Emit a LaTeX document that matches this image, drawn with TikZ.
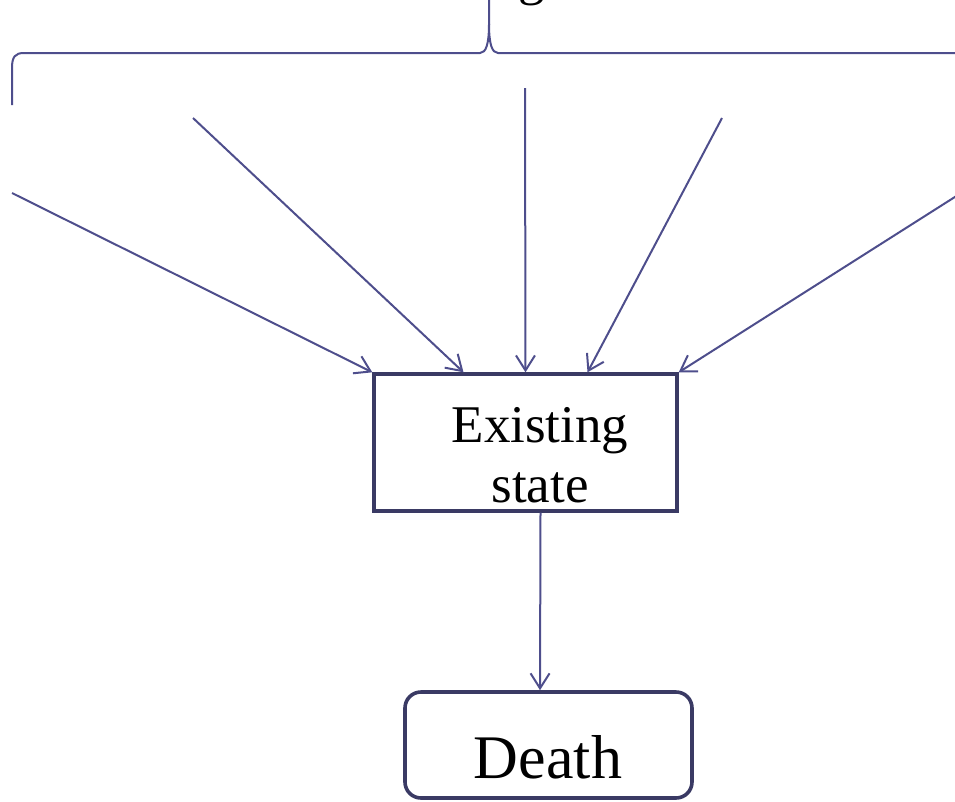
\documentclass[tikz,border=0pt]{standalone}
\usepackage{fontspec}
\setmainfont{Liberation Serif}
\usetikzlibrary{arrows.meta}
\definecolor{arrowcol}{HTML}{4E4E8C}
\definecolor{boxcol}{HTML}{3A3A64}
\begin{document}
\begin{tikzpicture}[x=1pt,y=-1pt,
  link/.style={draw=arrowcol,line width=2pt,-{Straight Barb[length=15pt,width=19pt,line width=2pt]}},
  statebox/.style={draw=boxcol,line width=3.4pt,minimum width=303pt,minimum height=137pt,inner sep=0pt},
  endbox/.style={draw=boxcol,line width=3.6pt,rounded corners=16pt,minimum width=287pt,minimum height=106pt,inner sep=0pt}]
  \useasboundingbox (0,0) rectangle (955,801);

  % caption above the brace (only its last letter reaches the page)
  \node[anchor=base west,inner sep=0pt,font=\fontsize{53pt}{60pt}\selectfont] (cap) at (518,-5.5) {g};

  % brace grouping the contributing causes
  \draw[arrowcol,line width=2pt]
    (12,105) -- (12,68) .. controls (12,57) and (15,53) .. (24,53) -- (480,53)
    .. controls (486,53) and (489,44) .. (489,24) -- (489,-2);
  \draw[arrowcol,line width=2pt]
    (489,24) .. controls (489,44) and (492,53) .. (498,53) -- (960,53);

  % boxes
  \node[statebox] (state) at (525.5,442.5) {};
  \node[inner sep=0pt,align=center,font=\fontsize{53pt}{60pt}\selectfont] (statetext) at (540,455) {Existing\\state};
  \node[endbox] (death) at (548.5,745) {};
  \node[anchor=base,inner sep=0pt,font=\fontsize{62pt}{70pt}\selectfont] (deathtext) at (548,778) {Death};

  % free ends of the incoming arrows
  \coordinate (c1) at (12,193);
  \coordinate (c2) at (193,118);
  \coordinate (c3) at (525,88);
  \coordinate (c4) at (722,118);
  \coordinate (c5) at (958,195);

  \draw[link] (c1) -- (state.north west);
  \draw[link] (c2) -- ([xshift=-62pt]state.north);
  \draw[link] (c3) -- (state.north);
  \draw[link] (c4) -- ([xshift=62pt]state.north);
  \draw[link] (c5) -- (state.north east);

  \draw[link] ([xshift=15pt]state.south) -- ([xshift=-8.5pt]death.north);
\end{tikzpicture}
\end{document}
